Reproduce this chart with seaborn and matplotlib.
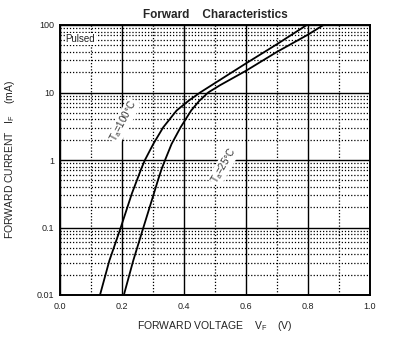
import matplotlib
matplotlib.use("Agg")
import matplotlib.pyplot as plt
from matplotlib.ticker import MultipleLocator, LogLocator, FixedLocator, NullFormatter
import pandas as pd
import seaborn as sns

# Forward voltage (V) vs forward current (mA) for two ambient temperatures
vf_100c = [0.129, 0.159, 0.196, 0.232, 0.262, 0.274, 0.301, 0.333, 0.376, 0.414, 0.452, 0.500, 0.600, 0.700, 0.796]
if_100c = [0.01, 0.032, 0.1, 0.32, 0.74, 1.0, 1.73, 3.05, 5.4, 7.5, 10.0, 13.8, 27.0, 52.0, 100.0]

vf_25c = [0.206, 0.236, 0.269, 0.303, 0.317, 0.328, 0.339, 0.360, 0.389, 0.423, 0.449, 0.478, 0.516, 0.600, 0.700, 0.800, 0.850]
if_25c = [0.01, 0.032, 0.1, 0.32, 0.52, 0.74, 1.0, 1.73, 3.05, 5.4, 7.5, 10.0, 12.8, 21.0, 40.0, 72.0, 100.0]

x_ticks = [0.0, 0.2, 0.4, 0.6, 0.8, 1.0]
x_tick_labels = ["0.0", "0.2", "0.4", "0.6", "0.8", "1.0"]
y_ticks = [0.01, 0.1, 1, 10, 100]
y_tick_labels = ["0.01", "0.1", "1", "10", "100"]

sns.set_theme(style="white")
plt.rcParams["font.family"] = ["Liberation Sans", "DejaVu Sans"]

df = pd.concat([
    pd.DataFrame({"vf": vf_100c, "if": if_100c, "temp": "100"}),
    pd.DataFrame({"vf": vf_25c, "if": if_25c, "temp": "25"}),
])

fig = plt.figure(figsize=(4.01, 3.48), dpi=100)
ax = fig.add_axes([60 / 401, 1 - 295 / 348, 310 / 401, 270 / 348])

ax.set_yscale("log")
ax.set_xlim(0, 1.0)
ax.set_ylim(0.01, 100)

# grid: solid majors, dotted minors
ax.xaxis.set_major_locator(FixedLocator(x_ticks))
ax.xaxis.set_minor_locator(MultipleLocator(0.1))
ax.yaxis.set_major_locator(FixedLocator(y_ticks))
ax.yaxis.set_minor_locator(LogLocator(base=10, subs=[2, 3, 4, 5, 6, 7, 8, 9]))
ax.yaxis.set_minor_formatter(NullFormatter())
ax.grid(True, which="major", color="black", linewidth=1.0, linestyle="-")
ax.grid(True, which="minor", color="black", linewidth=0.9, linestyle=(0, (1, 1.5)))
ax.set_axisbelow(True)

sns.lineplot(data=df, x="vf", y="if", units="temp", estimator=None, sort=False,
             color="black", linewidth=1.3, ax=ax, legend=False)

ax.set_xticks(x_ticks)
ax.set_xticklabels(x_tick_labels)
ax.set_yticks(y_ticks)
ax.set_yticklabels(y_tick_labels)
ax.tick_params(axis="both", which="both", length=0, labelsize=6.5, colors="#222222")
ax.tick_params(axis="x", pad=5)
ax.tick_params(axis="y", pad=4)

for s in ax.spines.values():
    s.set_color("black")
    s.set_linewidth(1.4)

ax.set_xlabel(r"FORWARD VOLTAGE    $\mathregular{V_{F}}$    (V)", fontsize=7.5, labelpad=6, color="#222222")
ax.set_ylabel(r"FORWARD CURRENT   $\mathregular{I_{F}}$    (mA)", fontsize=7.5, labelpad=14, color="#222222")
ax.set_title("Forward    Characteristics", fontsize=8.5, fontweight="bold", pad=5)

box = dict(facecolor="white", edgecolor="none", pad=0.5)
ax.text(0.018, 62, "Pulsed", fontsize=7, color="#222222", ha="left", va="center", bbox=box)
ax.text(0.206, 3.8, r"$\mathregular{T_{a}}$=100°C", fontsize=7, color="#333333",
        rotation=62, ha="center", va="center", bbox=box)
ax.text(0.529, 0.84, r"$\mathregular{T_{a}}$=25°C", fontsize=7, color="#333333",
        rotation=60, ha="center", va="center", bbox=box)

fig.savefig("out.png", dpi=100)
